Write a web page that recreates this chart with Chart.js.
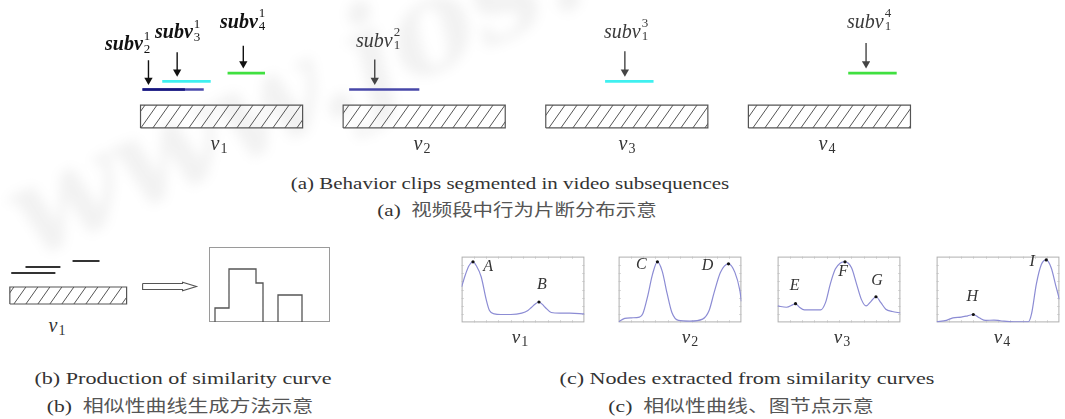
<!DOCTYPE html>
<html>
<head>
<meta charset="utf-8">
<title>Behavior clips and similarity curves</title>
<script src="https://cdn.jsdelivr.net/npm/chart.js@4.4.1/dist/chart.umd.min.js"></script>
<style>
  html, body { margin: 0; padding: 0; background: #fff; }
  #page { position: relative; width: 1065px; height: 419px; overflow: hidden;
          font-family: "Liberation Serif", "Times New Roman", serif; color: #222; }
  #page canvas { position: absolute; }
  #wm { position: absolute; left: 0; top: 0; white-space: nowrap;
        font: italic bold 130px "DejaVu Serif", serif; color: rgba(0, 0, 0, 0.05);
        filter: blur(6px); transform-origin: 0 0; transform: translate(-20px, 150px) rotate(-25deg); }
  .t { position: absolute; white-space: nowrap; line-height: 1; }
  .sv { font-size: 20px; font-style: italic; }
  .sv.b { font-weight: bold; color: #111; }
  .sv.g { color: #3a3a3a; }
  .ss { display: inline-flex; flex-direction: column; position: relative; top: -10.5px;
        font-style: normal; font-weight: normal; font-size: 13px; line-height: 13px; margin-left: 1px; }
  .vl { font-style: italic; color: #333; transform: translateX(-50%); }
  .vl span { font-style: normal; font-size: 14px; position: relative; top: 3px; margin-left: 1px; }
  .node { font-size: 16px; font-style: italic; color: #333; transform: translate(-50%, -50%); }
  .cap { color: #333; transform-origin: 50% 50%; }
  .cjk { font-family: "Noto Sans CJK SC", sans-serif; font-size: 16.5px; color: #555; }
</style>
</head>
<body>
<div id="page"><div id="wm">www.jos.org.cn</div></div>
<script>
// ---- data ----
// part (a): four video subsequences on one timeline (frames)
const videoLabels = ['1', '2', '3', '4'];
const videoStart = [0, 125, 250, 375];
const videoLength = 100;

// behaviour clips, frames relative to the start of their video
const clipVideo = [0, 0, 0, 1, 2, 3];
const clipIndex = [2, 3, 4, 1, 1, 1];
const clipStart = [1.2, 13.4, 53.7, 3.7, 36.6, 61.6];
const clipEnd = [39.0, 43.3, 76.8, 47.0, 66.5, 91.5];
const clipTrack = [0, 1, 2, 0, 1, 2];
const clipPointer = [4.9, 22.6, 63.4, 19.5, 48.8, 72.6];

// part (b): step similarity curve built from the clips of v1
const stepEdges = [6, 20, 47, 54, 69, 93];
const stepLevels = [14, 53, 39, 0, 27, 0];

// part (c): similarity curves of v1..v4
const curveX1 = [0, 3, 6, 9.3, 12, 16, 20, 22.7, 26.7, 32, 40, 49, 54, 57, 60, 63, 66, 68, 73, 80, 88, 100];
const curveY1 = [0.54, 0.72, 0.86, 0.92, 0.86, 0.69, 0.35, 0.18, 0.13, 0.12, 0.12, 0.14, 0.18, 0.23, 0.28, 0.31, 0.27, 0.23, 0.15, 0.14, 0.14, 0.13];
const curveX2 = [0, 5, 10.5, 17, 19.7, 23.7, 27.6, 31.6, 35.5, 39.5, 43.4, 48.7, 58, 68.4, 73.7, 77.6, 82.9, 89.5, 94.7, 98.7, 100];
const curveY2 = [0.01, 0.06, 0.07, 0.08, 0.13, 0.40, 0.73, 0.92, 0.78, 0.44, 0.15, 0.03, 0.02, 0.05, 0.18, 0.44, 0.76, 0.89, 0.76, 0.49, 0.32];
const curveX3 = [0, 7.2, 12.5, 14.6, 17.8, 21.8, 35, 39, 43, 47, 50.9, 54.9, 60.2, 64.2, 68.2, 72.1, 76.1, 80.1, 84.1, 88.1, 93.4, 100];
const curveY3 = [0.25, 0.23, 0.27, 0.285, 0.23, 0.19, 0.19, 0.30, 0.59, 0.81, 0.90, 0.92, 0.83, 0.59, 0.35, 0.25, 0.32, 0.39, 0.30, 0.20, 0.165, 0.145];
const curveX4 = [0, 8, 13.3, 20, 25.3, 29.9, 34.7, 40, 46.7, 52, 62.7, 74.7, 77.3, 81.3, 85.3, 89.3, 93.3, 97.3, 100];
const curveY4 = [0.01, 0.03, 0.07, 0.08, 0.10, 0.12, 0.07, 0.03, 0.035, 0.025, 0.01, 0.01, 0.13, 0.59, 0.88, 0.95, 0.83, 0.54, 0.35];
const peakIndex = [[3, 15], [7, 17], [3, 11, 17], [5, 15]];
const peakNames = [['A', 'B'], ['C', 'D'], ['E', 'F', 'G'], ['H', 'I']];

// ---- layout / style ----
const page = document.getElementById('page');
const clipColor = ['#16167e', '#3ff0f0', '#40e040', '#4747a8', '#3ff0f0', '#40e040'];
const clipTail = { 0: [27.4, '#4a4aac'] };       // clip 0 changes colour part way
const arrowColor = ['#111', '#111', '#111', '#444', '#444', '#444'];
const arrowTop = [8.2, 9.1, 9.8, 8.3, 9.2, 10.1];
const trackTop = [5.0, 5.9, 6.8];
const trackB = [3.7, 4.3, 4.9];
const clipLabelPos = [[105, 50], [155, 38], [220, 27.5], [356, 46.5], [604, 37.5], [847, 27.5]];
const nodeOffset = [[[15, 12], [3, -10]], [[-16, 10], [-21, 9]], [[-1, -11], [-2, 17], [1, -9]], [[-1, -11], [-14, 9]]];
const plotLeft = [460, 617, 776, 935];

function addText(cls, html, left, top) {
  const d = document.createElement('div');
  d.className = 't ' + cls;
  d.innerHTML = html;
  d.style.left = left + 'px';
  d.style.top = top + 'px';
  page.appendChild(d);
  return d;
}

function makeCanvas(left, top, w, h) {
  const c = document.createElement('canvas');
  c.width = w; c.height = h;
  c.style.left = left + 'px'; c.style.top = top + 'px';
  c.style.width = w + 'px'; c.style.height = h + 'px';
  page.appendChild(c);
  return c;
}

function hatch(ctx, color) {
  const w = 12, h = 17;
  const c = document.createElement('canvas');
  c.width = w; c.height = h;
  const g = c.getContext('2d');
  g.strokeStyle = color; g.lineWidth = 1;
  g.beginPath();
  g.moveTo(0, h); g.lineTo(w, 0);
  g.moveTo(-w, h); g.lineTo(0, 0);
  g.moveTo(w, h); g.lineTo(2 * w, 0);
  g.stroke();
  return ctx.createPattern(c, 'repeat');
}

const framePlugin = {
  id: 'frame',
  beforeDatasetsDraw(chart, args, opts) {
    if (!opts || !opts.color) return;
    const { ctx, chartArea: a, scales: { x, y } } = chart;
    ctx.save();
    ctx.strokeStyle = opts.color;
    ctx.lineWidth = 1;
    ctx.strokeRect(a.left + 0.5, a.top + 0.5, a.right - a.left - 1, a.bottom - a.top - 1);
    if (opts.tick) {
      ctx.strokeStyle = opts.tickColor;
      ctx.beginPath();
      for (let v = x.min + opts.xStep; v < x.max - 1e-6; v += opts.xStep) {
        const p = Math.round(x.getPixelForValue(v)) + 0.5;
        ctx.moveTo(p, a.top); ctx.lineTo(p, a.top + opts.tick);
        ctx.moveTo(p, a.bottom); ctx.lineTo(p, a.bottom - opts.tick);
      }
      for (let v = y.min + opts.yStep; v < y.max - 1e-6; v += opts.yStep) {
        const p = Math.round(y.getPixelForValue(v)) + 0.5;
        ctx.moveTo(a.left, p); ctx.lineTo(a.left + opts.tick, p);
        ctx.moveTo(a.right, p); ctx.lineTo(a.right - opts.tick, p);
      }
      ctx.stroke();
    }
    ctx.restore();
  }
};

function options(xr, yr, frame) {
  return {
    responsive: false, animation: false, events: [],
    layout: { padding: 0 },
    plugins: { legend: { display: false }, tooltip: { enabled: false }, frame: frame || {} },
    scales: {
      x: { type: 'linear', display: false, min: xr[0], max: xr[1] },
      y: { type: 'linear', display: false, min: yr[0], max: yr[1] }
    },
    elements: { point: { radius: 0, hoverRadius: 0 }, line: { tension: 0 } }
  };
}

function seg(x0, x1, y, color, width) {
  return { data: [{ x: x0, y: y }, { x: x1, y: y }], borderColor: color, borderWidth: width,
           borderCapStyle: 'butt', fill: false, pointRadius: 0 };
}

function rect(x0, x1, y0, y1, pattern) {
  return { data: [{ x: x0, y: y0 }, { x: x1, y: y0 }, { x: x1, y: y1 }, { x: x0, y: y1 }, { x: x0, y: y0 }],
           borderColor: '#555', borderWidth: 1.2, backgroundColor: pattern, fill: 'shape', pointRadius: 0 };
}

function chartAt(geo, datasets, frame) {
  const left = Math.round(geo.left + geo.x[0] * geo.px[0]);
  const w = Math.round((geo.x[1] - geo.x[0]) * geo.px[0]);
  const h = Math.round((geo.y[1] - geo.y[0]) * geo.px[1]);
  const c = makeCanvas(left, geo.top, w, h);
  const ds = typeof datasets === 'function' ? datasets(c.getContext('2d')) : datasets;
  const ch = new Chart(c, { type: 'line', data: { datasets: ds }, options: options(geo.x, geo.y, frame), plugins: [framePlugin] });
  ch.$left = left; ch.$top = geo.top;
  return ch;
}

// ---- (a) video subsequences with behaviour clips ----
const HEAD = 4.8;
chartAt({ left: 136, top: 30, px: [1.64, 10], x: [-6, 481], y: [0, 11] }, ctx => {
  const ds = [];
  clipVideo.forEach((v, i) => {
    const x = videoStart[v] + clipPointer[i];
    const tip = trackTop[clipTrack[i]] + 0.55 + HEAD / 10;
    ds.push({ data: [{ x: x, y: arrowTop[i] }, { x: x, y: tip }], borderColor: arrowColor[i], borderWidth: 1.4,
              pointRadius: [0, HEAD], pointStyle: 'triangle', pointRotation: 180,
              pointBackgroundColor: arrowColor[i], pointBorderWidth: 0, fill: false });
  });
  clipVideo.forEach((v, i) => {
    const y = trackTop[clipTrack[i]];
    const s = videoStart[v] + clipStart[i], e = videoStart[v] + clipEnd[i];
    if (clipTail[i]) {
      ds.push(seg(s, videoStart[v] + clipTail[i][0], y, clipColor[i], 2.6));
      ds.push(seg(s, e, y, clipTail[i][1], 2.6));
    } else {
      ds.push(seg(s, e, y, clipColor[i], 2.6));
    }
  });
  const pat = hatch(ctx, '#555');
  videoStart.forEach(s => ds.push(rect(s, s + videoLength, 0.8, 3.3, pat)));
  return ds;
});

clipVideo.forEach((v, i) => {
  const p = clipLabelPos[i];
  addText('sv ' + (i < 3 ? 'b' : 'g'),
    'subv<span class="ss"><span>' + (v + 1) + '</span><span>' + clipIndex[i] + '</span></span>', p[0], p[1] - 16.75);
});
[219, 422, 627, 827].forEach((cx, i) => {
  const d = addText('vl', 'v<span>' + videoLabels[i] + '</span>', cx, 150 - 16.75);
  d.style.fontSize = '20px';
});

// ---- (b) production of the similarity curve ----
chartAt({ left: 10, top: 250, px: [1.17, 10], x: [-5, 162], y: [0, 6] }, ctx => {
  const ds = [];
  clipVideo.forEach((v, i) => {
    if (v !== 0) return;
    ds.push(seg(clipStart[i], clipEnd[i], trackB[clipTrack[i]], '#333', 2));
  });
  ds.push({ data: [{ x: 113.7, y: 2.65 }, { x: 147.9, y: 2.65 }, { x: 147.9, y: 2.77 }, { x: 159.8, y: 2.35 },
                   { x: 147.9, y: 1.93 }, { x: 147.9, y: 2.05 }, { x: 113.7, y: 2.05 }, { x: 113.7, y: 2.65 }],
            borderColor: '#555', borderWidth: 1.1, fill: false, pointRadius: 0 });
  ds.push(rect(0, videoLength, 0.6, 2.3, hatch(ctx, '#555')));
  return ds;
});
const d1 = addText('vl', 'v<span>1</span>', 57, 332 - 16.75);
d1.style.fontSize = '20px';

const stepPts = [{ x: stepEdges[0], y: 0 }];
let prev = 0;
stepEdges.forEach((e, i) => {
  if (prev === 0 && i > 0) stepPts.push({ x: (e + stepEdges[i - 1]) / 2, y: null }, { x: e, y: 0 });
  else stepPts.push({ x: e, y: prev });
  stepPts.push({ x: e, y: stepLevels[i] });
  prev = stepLevels[i];
});
chartAt({ left: 209, top: 247, px: [1, 1], x: [0, 121], y: [0, 75] },
  [{ data: stepPts, borderColor: '#555', borderWidth: 1.3, fill: false, pointRadius: 0, spanGaps: false, clip: false }],
  { color: '#9a9a9a' });

// ---- (c) nodes extracted from similarity curves ----
const curvesX = [curveX1, curveX2, curveX3, curveX4];
const curvesY = [curveY1, curveY2, curveY3, curveY4];
curvesX.forEach((xs, k) => {
  const pts = xs.map((x, i) => ({ x: x, y: curvesY[k][i] }));
  const peaks = peakIndex[k].map(i => pts[i]);
  const ch = chartAt({ left: plotLeft[k], top: 255, px: [1.26, 69], x: [0, 100], y: [0, 1] }, [
    { data: peaks, showLine: false, pointRadius: 1.6, pointBackgroundColor: '#111', pointBorderWidth: 0 },
    { data: pts, borderColor: '#8c8cd4', borderWidth: 1.2, cubicInterpolationMode: 'monotone', fill: false, pointRadius: 0 }
  ], { color: '#b0b0b0', tick: 2, tickColor: '#c4c4c4', xStep: 10, yStep: 0.125 });
  peaks.forEach((p, j) => {
    const off = nodeOffset[k][j];
    const px = ch.$left + ch.scales.x.getPixelForValue(p.x) + off[0];
    const py = ch.$top + ch.scales.y.getPixelForValue(p.y) + off[1];
    addText('node', peakNames[k][j], px, py - 8);
  });
});
[520, 690, 842, 1002].forEach((cx, i) => {
  const d = addText('vl', 'v<span>' + videoLabels[i] + '</span>', cx, 343 - 16);
  d.style.fontSize = '19px';
});

// ---- captions ----
function caption(html, cx, baseline, size, sx, zh) {
  const d = addText('cap', html, cx, baseline - (zh ? 15 : 0.8375 * size));
  d.style.fontSize = size + 'px';
  d.style.transform = 'translateX(-50%) scaleX(' + sx + ')';
}
caption('(a) Behavior clips segmented in video subsequences', 510, 190, 17.5, 1.2);
caption('(a)&nbsp;&nbsp;<span class="cjk">视频段中行为片断分布示意</span>', 517, 216, 17, 1.24, true);
caption('(b) Production of similarity curve', 183, 384, 17, 1.3);
caption('(b)&nbsp;&nbsp;<span class="cjk">相似性曲线生成方法示意</span>', 180, 411.5, 17, 1.27, true);
caption('(c) Nodes extracted from similarity curves', 747, 384, 17, 1.3);
caption('(c)&nbsp;&nbsp;<span class="cjk">相似性曲线、图节点示意</span>', 741, 411.5, 17, 1.27, true);
</script>
</body>
</html>
